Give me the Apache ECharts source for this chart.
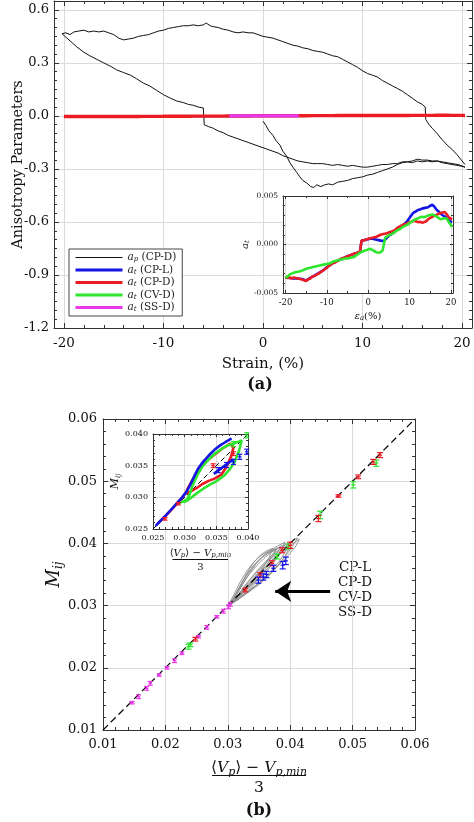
<!DOCTYPE html>
<html><head><meta charset="utf-8">
<script src="https://cdn.jsdelivr.net/npm/echarts@6/dist/echarts.min.js"></script>
<style>html,body{margin:0;padding:0;background:#fff}#c{width:474px;height:822px}</style>
</head><body><div id="c"></div>
<script>
// ================= DATA =================
// Panel (a): a_p (CP-D) loop, [strain %, value]
const apCurve = [
[0,-0.03],[0.3,-0.055],[0.6,-0.085],[1,-0.11],[1.3,-0.14],[1.7,-0.165],[2,-0.2],[2.4,-0.23],[2.7,-0.265],[3,-0.29],[3.4,-0.32],[3.7,-0.345],[4,-0.365],[4.4,-0.38],[4.8,-0.4],[5.1,-0.405],[5.4,-0.39],[5.8,-0.4],[6.2,-0.39],[6.6,-0.385],[7,-0.39],[7.5,-0.375],[8,-0.37],[8.5,-0.365],[9,-0.355],[9.5,-0.35],[10,-0.345],[10.5,-0.335],[11,-0.33],[11.5,-0.32],[12,-0.31],[12.5,-0.3],[13,-0.29],[13.5,-0.275],[14,-0.265],[14.5,-0.26],[15,-0.265],[15.5,-0.255],[16,-0.26],[16.5,-0.255],[17,-0.26],[17.5,-0.255],[18,-0.265],[18.5,-0.27],[19,-0.275],[19.5,-0.28],[20,-0.285],[20.3,-0.29],
[20.1,-0.285],[19.6,-0.275],[19,-0.27],[18.5,-0.265],[18,-0.26],[17.5,-0.255],[17,-0.255],[16.5,-0.25],[16,-0.25],[15.5,-0.245],[15,-0.255],[14.5,-0.26],[14,-0.26],[13.5,-0.27],[13,-0.27],[12.5,-0.275],[12,-0.275],[11.5,-0.28],[11,-0.285],[10.5,-0.29],[10,-0.29],[9.5,-0.285],[9,-0.28],[8.5,-0.285],[8,-0.28],[7.5,-0.275],[7,-0.28],[6.5,-0.275],[6,-0.27],[5.5,-0.27],[5,-0.27],[4.5,-0.265],[4,-0.26],[3.5,-0.255],[3,-0.245],[2.5,-0.235],[2,-0.225],[1.5,-0.21],[1,-0.2],[0.5,-0.19],[0,-0.18],[-0.5,-0.17],[-1,-0.16],[-1.5,-0.15],[-2,-0.14],[-2.5,-0.13],[-3,-0.12],[-3.5,-0.11],[-4,-0.095],[-4.5,-0.085],[-5,-0.07],[-5.5,-0.06],[-5.9,-0.05],
[-6,0.045],[-6.5,0.05],[-7,0.06],[-7.5,0.065],[-8,0.075],[-8.7,0.085],[-9.3,0.1],[-10,0.12],[-10.7,0.145],[-11.4,0.17],[-12,0.185],[-12.7,0.21],[-13.3,0.23],[-14,0.245],[-14.7,0.26],[-15.3,0.28],[-16,0.3],[-16.7,0.32],[-17.4,0.34],[-18,0.36],[-18.7,0.39],[-19.3,0.42],[-19.8,0.445],[-20.2,0.465],
[-19.8,0.47],[-19.4,0.46],[-19,0.475],[-18.5,0.48],[-18,0.485],[-17.5,0.475],[-17,0.48],[-16.5,0.475],[-16,0.48],[-15.5,0.47],[-15,0.46],[-14.5,0.44],[-14,0.43],[-13.5,0.435],[-13,0.44],[-12.5,0.45],[-12,0.455],[-11.5,0.46],[-11,0.47],[-10.5,0.48],[-10,0.485],[-9.5,0.495],[-9,0.5],[-8.5,0.505],[-8,0.51],[-7.5,0.51],[-7,0.515],[-6.5,0.51],[-6,0.515],[-5.7,0.525],[-5.3,0.51],[-5,0.505],[-4.5,0.5],[-4,0.49],[-3.5,0.485],[-3,0.475],[-2.5,0.47],[-2,0.475],[-1.5,0.47],[-1,0.47],[-0.5,0.46],[0,0.45],[0.5,0.445],[1,0.44],[1.5,0.43],[2,0.42],[2.5,0.41],[3,0.4],[3.5,0.395],[4,0.385],[4.5,0.38],[5,0.37],[5.5,0.365],[6,0.36],[6.5,0.35],[7,0.34],[7.5,0.335],[8,0.32],[8.5,0.305],[9,0.29],[9.5,0.275],[10,0.255],[10.5,0.24],[11,0.23],[11.5,0.22],[12,0.2],[12.5,0.185],[13,0.17],[13.5,0.155],[14,0.14],[14.5,0.12],[15,0.1],[15.5,0.08],[16,0.065],[16.3,0.05],
[16.35,-0.02],[16.7,-0.05],[17,-0.07],[17.5,-0.1],[18,-0.135],[18.5,-0.165],[19,-0.19],[19.5,-0.22],[20,-0.255],[20.3,-0.275]
];
// a_t series, [strain %, value]
const atCPL = [
[-20,-0.0034],[-19,-0.00345],[-18,-0.0035],[-17,-0.0035],[-16,-0.00355],[-15,-0.0037],[-14,-0.00345],[-13,-0.0032],[-12,-0.00295],[-11,-0.0027],[-10,-0.00235],[-9,-0.00205],[-8,-0.0018],[-7,-0.0016],[-6,-0.0014],[-5,-0.0012],[-4,-0.00105],[-3,-0.0009],[-2,-0.00075],[-1.7,-0.0006],[-1.6,0.0004],[-1,0.00045],[0,0.00055],[0.5,0.0006],[1,0.0006],[1.5,0.00055],[2,0.0005],[2.5,0.00045],[3,0.0004],[3.5,0.00035],[4,0.00045],[4.5,0.0007],[5,0.0009],[5.5,0.00105],[6,0.0012],[6.5,0.00135],[7,0.00155],[7.5,0.00175],[8,0.0019],[8.5,0.00205],[9,0.0022],[9.5,0.00245],[10,0.00275],[10.5,0.00305],[11,0.0033],[11.5,0.0034],[12,0.00355],[12.5,0.0036],[13,0.0037],[13.5,0.00375],[14,0.0038],[14.5,0.00385],[15,0.004],[15.5,0.0041],[16,0.0039],[16.5,0.0036],[17,0.0034],[17.5,0.0032],[18,0.003],[18.5,0.0029],[19,0.0027],[19.5,0.0025],[20,0.00235],[20.3,0.0023]
];
const atCPD = [
[-20,-0.0033],[-19.5,-0.00345],[-19,-0.0034],[-18.5,-0.0035],[-18,-0.0034],[-17.5,-0.00345],[-17,-0.0035],[-16.5,-0.00355],[-16,-0.0036],[-15.5,-0.0037],[-15,-0.00375],[-14.5,-0.0036],[-14,-0.0035],[-13.5,-0.0033],[-13,-0.00325],[-12.5,-0.0031],[-12,-0.003],[-11.5,-0.00285],[-11,-0.0027],[-10.5,-0.00255],[-10,-0.0024],[-9.5,-0.0022],[-9,-0.00205],[-8.5,-0.0019],[-8,-0.00185],[-7.5,-0.0017],[-7,-0.0016],[-6.5,-0.00145],[-6,-0.0014],[-5.5,-0.0013],[-5,-0.0012],[-4.5,-0.00115],[-4,-0.00105],[-3.5,-0.00095],[-3,-0.0009],[-2.5,-0.00085],[-2,-0.00075],[-1.7,-0.0006],[-1.6,0.0004],[-1,0.00045],[-0.5,0.0005],[0,0.0006],[0.5,0.00065],[1,0.0007],[1.5,0.00075],[2,0.0008],[2.5,0.0009],[3,0.001],[3.5,0.00105],[4,0.0011],[4.5,0.00115],[5,0.00125],[5.5,0.0013],[6,0.0014],[6.5,0.0015],[7,0.0017],[7.5,0.00185],[8,0.00195],[8.5,0.00205],[9,0.0021],[9.5,0.0022],[10,0.0023],[10.5,0.00235],[11,0.00245],[11.5,0.0024],[12,0.0023],[12.5,0.00235],[13,0.00225],[13.5,0.0023],[14,0.0024],[14.5,0.0026],[15,0.00275],[15.5,0.00285],[16,0.00295],[16.5,0.00305],[17,0.00315],[17.5,0.00325],[18,0.0033],[18.5,0.00335],[19,0.0031],[19.5,0.0028],[20,0.00265],[20.3,0.0026]
];
const atCVD = [
[-20,-0.0034],[-19.5,-0.0033],[-19,-0.0031],[-18.5,-0.003],[-18,-0.0029],[-17.5,-0.00285],[-17,-0.0028],[-16.5,-0.00275],[-16,-0.0027],[-15.5,-0.0026],[-15,-0.0025],[-14.5,-0.00245],[-14,-0.0024],[-13.5,-0.00235],[-13,-0.0023],[-12.5,-0.00225],[-12,-0.0022],[-11.5,-0.00215],[-11,-0.0021],[-10.5,-0.00205],[-10,-0.002],[-9.5,-0.00195],[-9,-0.0019],[-8.5,-0.00175],[-8,-0.0017],[-7.5,-0.00165],[-7,-0.0016],[-6.5,-0.00155],[-6,-0.0015],[-5.5,-0.00145],[-5,-0.00145],[-4.5,-0.0014],[-4,-0.00135],[-3.5,-0.0013],[-3,-0.00115],[-2.5,-0.001],[-2,-0.00085],[-1.5,-0.00075],[-1,-0.00065],[-0.5,-0.0006],[0,-0.0005],[0.5,-0.00045],[1,-0.00055],[1.5,-0.0007],[2,-0.0008],[2.5,-0.00085],[3,-0.0008],[3.5,-0.0006],[3.9,-0.0005],[4.1,0.0007],[4.5,0.00085],[5,0.00095],[5.5,0.00105],[6,0.00115],[6.5,0.0013],[7,0.00145],[7.5,0.00155],[8,0.0017],[8.5,0.00185],[9,0.00195],[9.5,0.00205],[10,0.0022],[10.5,0.00235],[11,0.0025],[11.5,0.0026],[12,0.0027],[12.5,0.0028],[13,0.00285],[13.5,0.0028],[14,0.0029],[14.5,0.003],[15,0.00305],[15.5,0.0031],[16,0.003],[16.5,0.0029],[17,0.00275],[17.5,0.0026],[18,0.00265],[18.5,0.0027],[19,0.00265],[19.5,0.0023],[20,0.002],[20.3,0.0018]
];
const atSSD = [[-3.4,0.0001],[-2,0.0002],[-1,0],[0,-0.0001],[1,0.0001],[2,0.0002],[3.6,0.0001]];

// Panel (b): gray loops [x, M_ij]
const grayLoops = [
[[0.0300,0.0300],[0.0310,0.0318],[0.0320,0.0338],[0.0330,0.0355],[0.0340,0.0368],[0.0350,0.0378],[0.0360,0.0385],[0.0370,0.0389],[0.0378,0.0391],[0.0372,0.0380],[0.0362,0.0365],[0.0350,0.0350],[0.0338,0.0335],[0.0325,0.0320],[0.0312,0.0308],[0.0302,0.0301]],
[[0.0302,0.0301],[0.0312,0.0316],[0.0322,0.0332],[0.0334,0.0350],[0.0346,0.0364],[0.0358,0.0376],[0.0370,0.0386],[0.0382,0.0393],[0.0390,0.0398],[0.0384,0.0385],[0.0372,0.0368],[0.0360,0.0352],[0.0346,0.0338],[0.0332,0.0324],[0.0318,0.0311],[0.0305,0.0302]],
[[0.0305,0.0302],[0.0315,0.0314],[0.0325,0.0328],[0.0337,0.0343],[0.0350,0.0358],[0.0362,0.0370],[0.0375,0.0381],[0.0388,0.0392],[0.0398,0.0400],[0.0394,0.0390],[0.0383,0.0372],[0.0370,0.0356],[0.0355,0.0341],[0.0340,0.0328],[0.0324,0.0315],[0.0308,0.0304]],
[[0.0303,0.0300],[0.0311,0.0313],[0.0318,0.0327],[0.0326,0.0343],[0.0334,0.0358],[0.0342,0.0370],[0.0352,0.0381],[0.0362,0.0388],[0.0372,0.0392],[0.0366,0.0377],[0.0356,0.0360],[0.0345,0.0345],[0.0332,0.0330],[0.0320,0.0317],[0.0310,0.0307]],
[[0.0306,0.0303],[0.0316,0.0316],[0.0328,0.0333],[0.0341,0.0349],[0.0355,0.0365],[0.0368,0.0378],[0.0381,0.0389],[0.0394,0.0399],[0.0405,0.0405],[0.0412,0.0409],[0.0404,0.0396],[0.0392,0.0379],[0.0378,0.0362],[0.0362,0.0346],[0.0346,0.0333],[0.0330,0.0321],[0.0315,0.0309]],
[[0.0301,0.0300],[0.0308,0.0311],[0.0316,0.0325],[0.0324,0.0340],[0.0333,0.0353],[0.0343,0.0366],[0.0354,0.0377],[0.0366,0.0385],[0.0378,0.0390],[0.0372,0.0383],[0.0364,0.0372],[0.0352,0.0357],[0.0340,0.0343],[0.0328,0.0329],[0.0316,0.0316],[0.0306,0.0305]],
[[0.0308,0.0305],[0.0320,0.0318],[0.0334,0.0334],[0.0348,0.0350],[0.0362,0.0364],[0.0376,0.0377],[0.0390,0.0389],[0.0402,0.0398],[0.0415,0.0407],[0.0408,0.0394],[0.0396,0.0380],[0.0383,0.0366],[0.0368,0.0351],[0.0352,0.0338],[0.0336,0.0326],[0.0320,0.0314]],
[[0.0304,0.0302],[0.0313,0.0318],[0.0322,0.0335],[0.0331,0.0350],[0.0340,0.0363],[0.0350,0.0374],[0.0361,0.0383],[0.0373,0.0390],[0.0385,0.0395],[0.0377,0.0382],[0.0366,0.0366],[0.0355,0.0352],[0.0343,0.0339],[0.0330,0.0326],[0.0317,0.0314],[0.0307,0.0305]],
[[0.0305,0.0301],[0.0318,0.0315],[0.0332,0.0331],[0.0346,0.0347],[0.0360,0.0362],[0.0374,0.0375],[0.0388,0.0386],[0.0398,0.0392],[0.0392,0.0380],[0.0380,0.0364],[0.0366,0.0348],[0.0350,0.0334],[0.0334,0.0322],[0.0318,0.0311],[0.0306,0.0303]],
[[0.0306,0.0302],[0.0316,0.0320],[0.0326,0.0338],[0.0336,0.0354],[0.0346,0.0368],[0.0357,0.0380],[0.0368,0.0389],[0.0380,0.0396],[0.0392,0.0402],[0.0386,0.0390],[0.0375,0.0375],[0.0364,0.0360],[0.0350,0.0344],[0.0336,0.0331],[0.0322,0.0319],[0.0309,0.0307]]
];
// Error-bar points [x, y, half-error]
const ebSSD = [[0.01464,0.01439,0.0002],[0.0157,0.01535,0.0003],[0.0170,0.0167,0.0003],[0.01757,0.01751,0.0003],[0.0190,0.01884,0.0002],[0.02025,0.0200,0.0002],[0.02147,0.02114,0.0003],[0.02265,0.02233,0.0002],[0.0253,0.0250,0.0002],[0.02665,0.0265,0.0003],[0.02825,0.0282,0.0002],[0.0293,0.0291,0.0003],[0.0301,0.0298,0.0003],[0.0304,0.0302,0.0003]];
const ebCPD = [[0.0248,0.0246,0.0003],[0.0328,0.0325,0.0003],[0.0352,0.0349,0.0004],[0.0371,0.0368,0.0004],[0.0387,0.0389,0.0004],[0.0400,0.0397,0.0005],[0.04452,0.0440,0.0005],[0.04773,0.04762,0.0002],[0.0509,0.0507,0.0003],[0.0533,0.0531,0.0004],[0.0544,0.0542,0.0004]];
const ebCVD = [[0.0237,0.0234,0.0004],[0.0240,0.0237,0.0003],[0.0379,0.0379,0.0004],[0.0397,0.0395,0.0004],[0.0448,0.04457,0.0006],[0.0501,0.0494,0.0005],[0.0538,0.0529,0.0005]];
const ebCPL = [[0.0349,0.0341,0.0005],[0.0357,0.0346,0.0005],[0.0362,0.0350,0.0005],[0.0373,0.0360,0.0005],[0.0388,0.0365,0.0006],[0.0393,0.0372,0.0006]];
// Inset (b) lines
const ibLineCPL = [[0.0254,0.0255],[0.0262,0.0263],[0.0270,0.0271],[0.0278,0.0280],[0.0288,0.0291],[0.0296,0.0300],[0.0303,0.0309],[0.0309,0.0320],[0.0315,0.0333],[0.0321,0.0345],[0.0329,0.0356],[0.0338,0.0366],[0.0347,0.0375],[0.0356,0.0382],[0.0364,0.0387],[0.0371,0.0391],[0.0374,0.0393]];
const ibLineCPLret = [[0.0377,0.0360],[0.0370,0.0355],[0.0362,0.0349],[0.0354,0.0343],[0.0346,0.0337]];
const ibLineCPD = [[0.0256,0.0257],[0.0265,0.0266],[0.0275,0.0276],[0.0285,0.0287],[0.0294,0.0297],[0.0301,0.0306],[0.0306,0.0316],[0.0312,0.0327],[0.0319,0.0338],[0.0328,0.0350],[0.0339,0.0361],[0.0349,0.0369],[0.0358,0.0376],[0.0366,0.0381],[0.0372,0.0385],[0.0375,0.0386],[0.0377,0.0378],[0.0373,0.0364],[0.0366,0.0348],[0.0358,0.0336],[0.0348,0.0330],[0.0338,0.0326],[0.0328,0.0321],[0.0318,0.0314],[0.0309,0.0309],[0.0302,0.0306]];
const ibLineCVD = [[0.0288,0.0290],[0.0294,0.0292],[0.0299,0.0294],[0.0304,0.0297],[0.0308,0.0305],[0.0313,0.0320],[0.0320,0.0335],[0.0328,0.0349],[0.0338,0.0360],[0.0349,0.0370],[0.0359,0.0377],[0.0368,0.0382],[0.0377,0.0385],[0.0385,0.0388],[0.0390,0.0390],[0.0386,0.0374],[0.0379,0.0356],[0.0371,0.0344],[0.0362,0.0334],[0.0351,0.0326],[0.0340,0.0320],[0.0330,0.0314],[0.0320,0.0307],[0.0311,0.0300],[0.0304,0.0295],[0.0298,0.0292]];
const ibEbCPD = [[0.0269,0.0266,0.0002],[0.0290,0.0290,0.0002],[0.0345,0.0350,0.0003],[0.0377,0.0369,0.0003]];
const ibEbCPL = [[0.0353,0.0343,0.0004],[0.0366,0.0351,0.0004],[0.0377,0.0356,0.0004],[0.0387,0.0364,0.0004],[0.0398,0.0372,0.0004]];
const ibEbCVD = [[0.0377,0.0384,0.0004],[0.0398,0.0398,0.0004]];
const diagMain = [[0.01,0.01],[0.06,0.06]];
const diagInset = [[0.025,0.025],[0.04,0.04]];
const arrowLine = [[0.0464,0.0323],[0.0376,0.0323]];
const arrowTexts = ['CP-L','CP-D','CV-D','SS-D'];

// Ticks / labels
const aXMajor = [-20,-10,0,10,20];
const aXMinor = [-18,-16,-14,-12,-8,-6,-4,-2,2,4,6,8,12,14,16,18];
const aYMajor = [-1.2,-0.9,-0.6,-0.3,0,0.3,0.6];
const aYMinor = [-1.15,-1.1,-1.05,-1,-0.95,-0.85,-0.8,-0.75,-0.7,-0.65,-0.55,-0.5,-0.45,-0.4,-0.35,-0.25,-0.2,-0.15,-0.1,-0.05,0.05,0.1,0.15,0.2,0.25,0.35,0.4,0.45,0.5,0.55];
const iaXMajor = [-20,-10,0,10,20];
const iaXMinor = [-15,-5,5,15];
const iaYMajor = [-0.005,0,0.005];
const iaYMinor = [-0.004,-0.003,-0.002,-0.001,0.001,0.002,0.003,0.004];
const bMajor = [0.01,0.02,0.03,0.04,0.05,0.06];
const bMinor = [0.012,0.014,0.016,0.018,0.022,0.024,0.026,0.028,0.032,0.034,0.036,0.038,0.042,0.044,0.046,0.048,0.052,0.054,0.056,0.058];
const ibMajor = [0.025,0.03,0.035,0.04];
const ibMinor = [0.026,0.027,0.028,0.029,0.031,0.032,0.033,0.034,0.036,0.037,0.038,0.039];

const legendNames = ['a_p (CP-D)','a_t (CP-L)','a_t (CP-D)','a_t (CV-D)','a_t (SS-D)'];
const legendSubs = ['p','t','t','t','t'];
const legendTags = ['(CP-D)','(CP-L)','(CP-D)','(CV-D)','(SS-D)'];

// ================= STYLE =================
const FONT = "'DejaVu Serif', 'Liberation Serif', serif";
const FRAME = '#333';
const GRIDC = '#dadada';
const C = {black:'#111', blue:'#1414e6', red:'#ec1c24', green:'#2ee62e', magenta:'#e838e8', gray:'#8c8c8c'};

function rich(size) {
  return {
    i: {fontFamily: FONT, fontStyle: 'italic', fontSize: size, color: '#111'},
    s: {fontFamily: FONT, fontStyle: 'italic', fontSize: Math.round(size * 0.68), color: '#111', padding: [Math.round(size * 0.5), 0, 0, 0]},
    n: {fontFamily: FONT, fontSize: size, color: '#111'}
  };
}

const xAxes = [], yAxes = [];
function addAxes(list, dim, gi, cfg) {
  const pos = dim === 'x' ? ['bottom', 'top'] : ['left', 'right'];
  const base = {type: 'value', gridIndex: gi, min: cfg.min, max: cfg.max, z: cfg.z || 0};
  if (cfg.interval) base.interval = cfg.interval;
  if (cfg.splitNumber) base.splitNumber = cfg.splitNumber;
  const idx = list.length;
  const line = {show: true, onZero: false, lineStyle: {color: FRAME, width: 1}};
  const noLine = {show: false, onZero: false};
  const tick = (vals, len) => ({show: true, inside: true, length: len, customValues: vals, lineStyle: {color: FRAME, width: 1}});
  const primary = Object.assign({}, base, {
    position: pos[0], axisLine: line, axisTick: tick(cfg.major, cfg.tickLen),
    axisLabel: {show: true, customValues: cfg.major, formatter: cfg.fmt, fontFamily: FONT, fontSize: cfg.fontSize, color: '#111', margin: cfg.margin},
    splitLine: {show: true, lineStyle: {color: GRIDC, width: 1}}
  });
  if (cfg.name) Object.assign(primary, {name: cfg.name, nameLocation: 'middle', nameGap: cfg.nameGap, nameRotate: cfg.nameRotate || 0,
    nameMoveOverlap: false,
    nameTextStyle: {fontFamily: FONT, fontSize: cfg.nameSize, color: '#111', rich: rich(cfg.nameSize)}});
  list.push(primary);
  list.push(Object.assign({}, base, {position: pos[0], axisLine: noLine, axisTick: tick(cfg.minor, cfg.minorLen), axisLabel: {show: false}, splitLine: {show: false}}));
  list.push(Object.assign({}, base, {position: pos[1], axisLine: line, axisTick: tick(cfg.major, cfg.tickLen), axisLabel: {show: false}, splitLine: {show: false}}));
  list.push(Object.assign({}, base, {position: pos[1], axisLine: noLine, axisTick: tick(cfg.minor, cfg.minorLen), axisLabel: {show: false}, splitLine: {show: false}}));
  return idx;
}

const grids = [
  {left: 54, top: 1, width: 418, height: 327, outerBoundsMode: 'none'},
  {left: 283, top: 196, width: 170, height: 97, show: true, backgroundColor: '#fff', borderWidth: 0, z: 3, outerBoundsMode: 'none'},
  {left: 103, top: 419, width: 312, height: 311, outerBoundsMode: 'none'},
  {left: 153, top: 434, width: 95, height: 95, show: true, backgroundColor: '#fff', borderWidth: 0, z: 3, outerBoundsMode: 'none'}
];

const ax0 = addAxes(xAxes, 'x', 0, {min: -21, max: 21, splitNumber: 4, major: aXMajor, minor: aXMinor, fmt: v => String(v), fontSize: 13.5, margin: 8, tickLen: 5, minorLen: 3,
  name: 'Strain, (%)', nameGap: 29, nameSize: 15});
const ay0 = addAxes(yAxes, 'y', 0, {min: -1.2, max: 0.65, interval: 0.3, major: aYMajor, minor: aYMinor, fmt: v => v.toFixed(1), fontSize: 13, margin: 5, tickLen: 5, minorLen: 3,
  name: 'Anisotropy Parameters', nameGap: 28, nameRotate: 90, nameSize: 14.5});
const ax1 = addAxes(xAxes, 'x', 1, {min: -20.6, max: 20.5, splitNumber: 4, major: iaXMajor, minor: iaXMinor, fmt: v => String(v), fontSize: 8.5, margin: 5, tickLen: 3, minorLen: 2, z: 4,
  name: '{i|ε}{s|a}(%)', nameGap: 17, nameSize: 10});
const ay1 = addAxes(yAxes, 'y', 1, {min: -0.005, max: 0.005, interval: 0.005, major: iaYMajor, minor: iaYMinor, fmt: v => v.toFixed(3), fontSize: 7.5, margin: 5, tickLen: 3, minorLen: 2, z: 4,
  name: '{i|a}{s|t}', nameGap: 32, nameRotate: 90, nameSize: 10});
const ax2 = addAxes(xAxes, 'x', 2, {min: 0.01, max: 0.06, interval: 0.01, major: bMajor, minor: bMinor, fmt: v => v.toFixed(2), fontSize: 13, margin: 8, tickLen: 5, minorLen: 3});
const ay2 = addAxes(yAxes, 'y', 2, {min: 0.01, max: 0.06, interval: 0.01, major: bMajor, minor: bMinor, fmt: v => v.toFixed(2), fontSize: 13, margin: 6, tickLen: 5, minorLen: 3,
  name: '{i|M}{s|ij}', nameGap: 38, nameRotate: 90, nameSize: 18});
const ax3 = addAxes(xAxes, 'x', 3, {min: 0.025, max: 0.04, interval: 0.005, major: ibMajor, minor: ibMinor, fmt: v => v.toFixed(3), fontSize: 8, margin: 5, tickLen: 3, minorLen: 2, z: 4});
const ay3 = addAxes(yAxes, 'y', 3, {min: 0.025, max: 0.04, interval: 0.005, major: ibMajor, minor: ibMinor, fmt: v => v.toFixed(3), fontSize: 8, margin: 5, tickLen: 3, minorLen: 2, z: 4,
  name: '{i|M}{s|ij}', nameGap: 31, nameRotate: 90, nameSize: 11});

function lineS(name, xi, yi, data, color, width, z, extra) {
  return Object.assign({name: name, type: 'line', xAxisIndex: xi, yAxisIndex: yi, data: data, symbol: 'none', showSymbol: false,
    lineStyle: {color: color, width: width}, itemStyle: {color: color}, z: z, silent: true}, extra || {});
}
function errS(name, xi, yi, data, color, cap, lw, z) {
  return {name: name, type: 'custom', xAxisIndex: xi, yAxisIndex: yi, data: data, z: z, silent: true,
    encode: {x: 0, y: 1}, dimensions: ['x', 'y', 'e'],
    renderItem: function (params, api) {
      const x = api.value(0), y = api.value(1), e = api.value(2);
      const p1 = api.coord([x, y + e]), p2 = api.coord([x, y - e]), c = api.coord([x, y]);
      const st = {stroke: color, lineWidth: lw};
      return {type: 'group', children: [
        {type: 'line', shape: {x1: p1[0], y1: p1[1], x2: p2[0], y2: p2[1]}, style: st},
        {type: 'line', shape: {x1: p1[0] - cap, y1: p1[1], x2: p1[0] + cap, y2: p1[1]}, style: st},
        {type: 'line', shape: {x1: p2[0] - cap, y1: p2[1], x2: p2[0] + cap, y2: p2[1]}, style: st},
        {type: 'line', shape: {x1: c[0] - cap * 0.7, y1: c[1], x2: c[0] + cap * 0.7, y2: c[1]}, style: st}
      ]};
    }};
}

const series = [];
// panel (a) main
series.push(lineS(legendNames[0], ax0, ay0, apCurve, C.black, 1, 2));
series.push(lineS(legendNames[1], ax0, ay0, atCPL, C.blue, 2.4, 2));
series.push(lineS(legendNames[3], ax0, ay0, atCVD, C.green, 2.4, 2));
series.push(lineS(legendNames[2], ax0, ay0, atCPD, C.red, 3.4, 2));
series.push(lineS(legendNames[4], ax0, ay0, atSSD, C.magenta, 3.4, 2));
// panel (a) inset
series.push(lineS('inset CP-L', ax1, ay1, atCPL, C.blue, 2.6, 5));
series.push(lineS('inset CP-D', ax1, ay1, atCPD, C.red, 2.6, 5));
series.push(lineS('inset CV-D', ax1, ay1, atCVD, C.green, 2.6, 5));
// panel (b) main
grayLoops.forEach((lp, k) => series.push(lineS('gray ' + k, ax2, ay2, lp, C.gray, 0.9, 2)));
series.push(lineS('diag', ax2, ay2, diagMain, '#000', 1.2, 3, {
  lineStyle: {color: '#000', width: 1.2, type: [7, 4]},
  markLine: {silent: true, symbol: ['none', 'arrow'], symbolSize: 16, label: {show: false},
    lineStyle: {color: '#000', width: 3, type: 'solid'},
    data: [[{coord: arrowLine[0]}, {coord: arrowLine[1]}]]}
}));
series.push(errS('eb SS-D', ax2, ay2, ebSSD, C.magenta, 2.5, 1.2, 4));
series.push(errS('eb CV-D', ax2, ay2, ebCVD, C.green, 3, 1.2, 4));
series.push(errS('eb CP-D', ax2, ay2, ebCPD, C.red, 3, 1.2, 4));
series.push(errS('eb CP-L', ax2, ay2, ebCPL, C.blue, 3, 1.2, 4));
// panel (b) inset
series.push(lineS('idiag', ax3, ay3, diagInset, '#000', 1, 5, {lineStyle: {color: '#000', width: 1, type: [5, 3]}}));
series.push(lineS('ib CP-D', ax3, ay3, ibLineCPD, C.red, 2.6, 5));
series.push(lineS('ib CV-D', ax3, ay3, ibLineCVD, C.green, 2.6, 5));
series.push(lineS('ib CP-L', ax3, ay3, ibLineCPL, C.blue, 2.6, 5));
series.push(lineS('ib CP-L ret', ax3, ay3, ibLineCPLret, C.blue, 2.6, 5));
series.push(errS('ieb CP-D', ax3, ay3, ibEbCPD, C.red, 2.5, 1.2, 6));
series.push(errS('ieb CP-L', ax3, ay3, ibEbCPL, C.blue, 2.5, 1.2, 6));
series.push(errS('ieb CV-D', ax3, ay3, ibEbCVD, C.green, 2.5, 1.2, 6));

function fraction(cx, yNum, yBar, yDen, halfW, size) {
  return {type: 'group', children: [
    {type: 'text', x: cx, y: yNum, style: {text: '⟨{i|V}{s|p}⟩ − {i|V}{s|p,min}', rich: rich(size), font: size + 'px ' + FONT, fill: '#111', align: 'center', verticalAlign: 'middle'}},
    {type: 'line', shape: {x1: cx - halfW, y1: yBar, x2: cx + halfW, y2: yBar}, style: {stroke: '#111', lineWidth: 1}},
    {type: 'text', x: cx, y: yDen, style: {text: '3', font: size + 'px ' + FONT, fill: '#111', align: 'center', verticalAlign: 'middle'}}
  ]};
}

const graphic = [
  {type: 'text', x: 260, y: 385, style: {text: '(a)', font: 'bold 16px ' + FONT, fill: '#111', align: 'center', verticalAlign: 'middle'}},
  {type: 'text', x: 259, y: 811, style: {text: '(b)', font: 'bold 16px ' + FONT, fill: '#111', align: 'center', verticalAlign: 'middle'}},
  fraction(259, 768, 775.5, 788, 47, 15.5),
  fraction(200.5, 553, 559.5, 567, 28, 10)
];
arrowTexts.forEach((t, k) => graphic.push({type: 'text', x: 355, y: 567 + 15 * k,
  style: {text: t, font: '13.5px ' + FONT, fill: '#111', align: 'center', verticalAlign: 'middle'}}));

const chart = echarts.init(document.getElementById('c'), null, {renderer: 'canvas'});
chart.setOption({
  animation: false,
  backgroundColor: '#fff',
  grid: grids,
  xAxis: xAxes,
  yAxis: yAxes,
  legend: {
    data: legendNames, orient: 'vertical', left: 69, top: 249,
    padding: [3, 6, 3, 5], itemGap: 1.5, itemWidth: 47, itemHeight: 10,
    backgroundColor: '#fff', borderColor: '#444', borderWidth: 1, borderRadius: 0,
    selectedMode: false, z: 6,
    itemStyle: {opacity: 0},
    lineStyle: {width: 3},
    formatter: function (name) { const k = legendNames.indexOf(name); return '{i|a}{s|' + legendSubs[k] + '} ' + legendTags[k]; },
    textStyle: {fontFamily: FONT, fontSize: 10.5, color: '#222', lineHeight: 11, rich: {
      i: {fontFamily: FONT, fontStyle: 'italic', fontSize: 10.5, color: '#222'},
      s: {fontFamily: FONT, fontStyle: 'italic', fontSize: 7, color: '#222', padding: [4, 0, 0, 0]}
    }}
  },
  graphic: graphic,
  series: series
});
// keep the a_p legend line thin like the reference
chart.setOption({legend: {data: [
  {name: legendNames[0], lineStyle: {width: 1.2}},
  legendNames[1], legendNames[2], legendNames[3], legendNames[4]
]}});
</script>
</body></html>
